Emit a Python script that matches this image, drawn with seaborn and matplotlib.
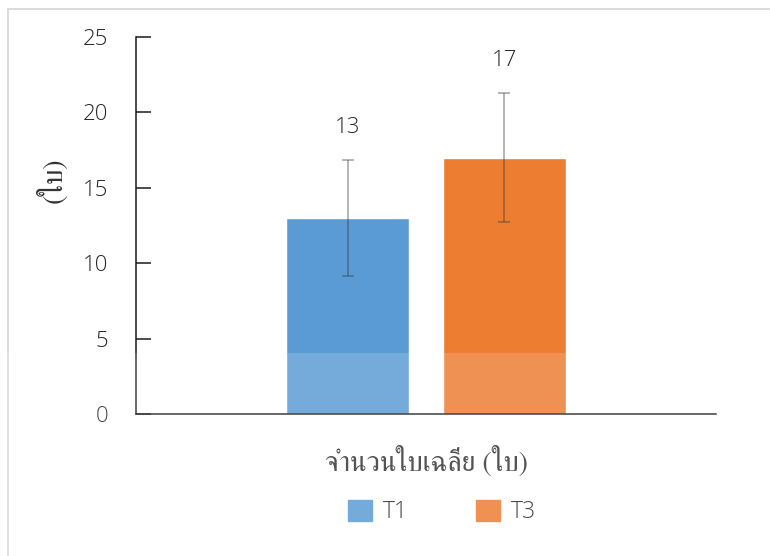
import matplotlib
matplotlib.use("Agg")
import matplotlib.pyplot as plt
from matplotlib.patches import Rectangle
import pandas as pd
import seaborn as sns

# values
groups = ["จำนวนใบเฉลี่ย (ใบ)", "จำนวนใบเฉลี่ย (ใบ)"]
treatments = ["T1", "T3"]
mean_leaves = [13, 17]
sd_leaves = [3.85, 4.3]
colors = ["#5B9BD5", "#ED7D31"]
y_ticks = [0, 5, 10, 15, 20, 25]

sns.set_style("white")
thai_font = ["FreeSerif", "DejaVu Sans"]
num_font = ["Open Sans", "DejaVu Sans"]
plt.rcParams["font.family"] = num_font

df = pd.DataFrame({"group": groups, "treatment": treatments, "leaves": mean_leaves})

fig = plt.figure(figsize=(7.7, 5.56), dpi=100)
ax = fig.add_axes([136 / 770, 1 - 414 / 556, 580 / 770, 377 / 556])

sns.barplot(data=df, x="group", y="leaves", hue="treatment", palette=colors,
            width=0.541, gap=0.217, errorbar=None, saturation=1, legend=False, ax=ax)

# error bars and value labels on top of each bar
for cont, m, s in zip(ax.containers, mean_leaves, sd_leaves):
    bar = cont.patches[0]
    xc = bar.get_x() + bar.get_width() / 2
    ax.errorbar(xc, m, yerr=s, fmt="none", ecolor=(0.2, 0.2, 0.2, 0.42),
                elinewidth=1.2, capsize=4, capthick=1.2, zorder=5)
    ax.annotate(f"{m}", (xc, m + s), xytext=(0, 23), textcoords="offset points",
                ha="center", va="center", fontsize=16, color="#262626",
                fontweight="light")

ax.set_xlim(-0.5, 0.5)
ax.set_ylim(0, 25)
ax.set_yticks(y_ticks)
ax.set_xticks([])
ax.tick_params(axis="y", left=True, direction="in", length=11, width=1.1, pad=20,
               labelsize=16, labelcolor="#262626", color="#1a1a1a")
for lab in ax.get_yticklabels():
    lab.set_fontweight("light")
sns.despine(ax=ax)
for side in ["left", "bottom"]:
    ax.spines[side].set_color("#1a1a1a")
    ax.spines[side].set_linewidth(1.1)

ax.set_xlabel("จำนวนใบเฉลี่ย (ใบ)", family=thai_font, fontsize=20, color="#333333",
              va="center")
ax.xaxis.set_label_coords(0.5, -0.127)
ax.set_ylabel("(ใบ)", family=thai_font, fontsize=20, color="#333333", va="center")
ax.yaxis.set_label_coords(-0.145, 0.62)

handles = [Rectangle((0, 0), 1, 1, color=c) for c in colors]
leg = fig.legend(handles, treatments, loc="center", bbox_to_anchor=(442 / 770, 1 - 512 / 556),
                 ncol=2, frameon=False, fontsize=16.5, handlelength=1.05, handleheight=1.05,
                 handletextpad=0.45, columnspacing=3.0, labelcolor="#262626")
for t in leg.get_texts():
    t.set_fontweight("light")

# chart frame and the faint lighter band at the bottom of the picture
fig.patches.append(Rectangle((8 / 770, -0.1), 1.0, 1.1 - 9 / 556, transform=fig.transFigure,
                             fill=False, ec="#d9d9d9", lw=1.3))
fig.patches.append(Rectangle((0, 0), 1.0, 1 - 353 / 556, transform=fig.transFigure,
                             fc="white", alpha=0.16, ec="none", zorder=20))

fig.savefig("out.png", dpi=100)
